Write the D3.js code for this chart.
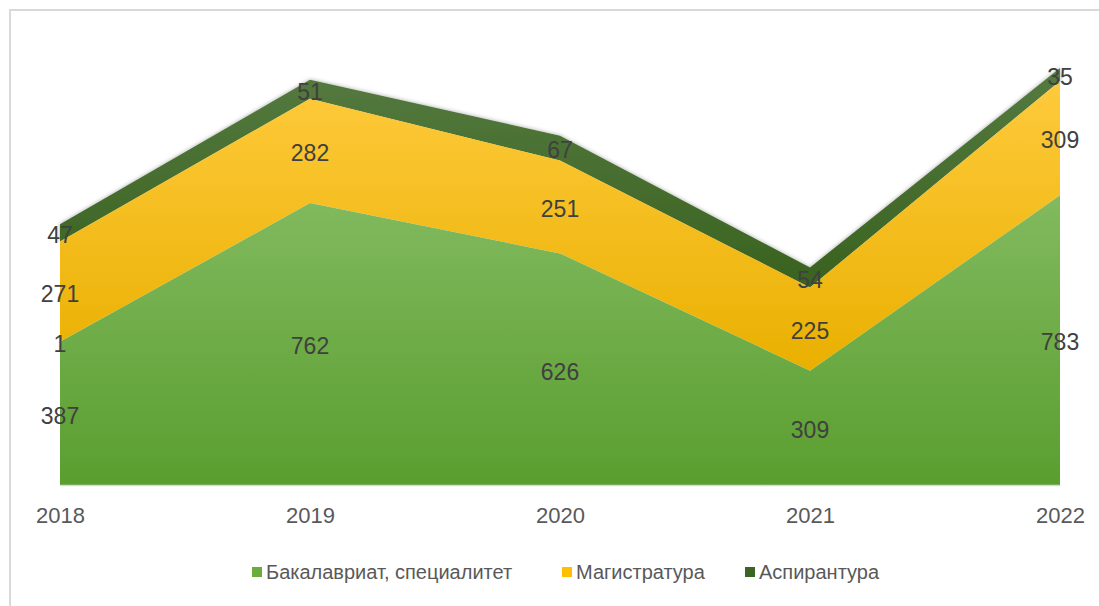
<!DOCTYPE html>
<html>
<head>
<meta charset="utf-8">
<script src="https://cdn.jsdelivr.net/npm/d3@7"></script>
<style>
  body { margin: 0; background: white; }
  text { font-family: "Liberation Sans Narrow", "Liberation Sans", sans-serif; }
</style>
</head>
<body>
<svg id="svg" width="1099" height="606"></svg>
<script>
var years = [2018, 2019, 2020, 2021, 2022];
var bakalavriat = [387, 762, 626, 309, 783];
var magistratura = [271, 282, 251, 225, 309];
var aspirantura = [47, 51, 67, 54, 35];
var seriesNames = ["Бакалавриат, специалитет", "Магистратура", "Аспирантура"];
// stray label excel put on the 2018 boundary
var extraLabels = [{ year: 2018, text: "1" }];

var width = 1099, height = 606;
const svg = d3.select('#svg');

// chart frame
svg.append("rect")
  .attr("x", 10).attr("y", 10)
  .attr("width", 1200).attr("height", 620)
  .attr("fill", "white")
  .attr("stroke", "#d9d9d9")
  .attr("stroke-width", 2);

var x = d3.scalePoint().domain(years).range([60, 1060]);
var y = d3.scaleLinear().domain([0, 1200]).range([485, 41]);

var rows = years.map(function(yr, i) {
  return { year: yr, b: bakalavriat[i], m: magistratura[i], a: aspirantura[i] };
});
var keys = ["b", "m", "a"];
var stacked = d3.stack().keys(keys)(rows);

var defs = svg.append("defs");
var grads = [
  ["gB", "#82ba5f", "#5a9e2f"],
  ["gM", "#ffca3c", "#e9b000"],
  ["gA", "#557a40", "#39621f"]
];
grads.forEach(function(g) {
  var lg = defs.append("linearGradient").attr("id", g[0])
    .attr("x1", 0).attr("y1", 0).attr("x2", 0).attr("y2", 1);
  lg.append("stop").attr("offset", "0%").attr("stop-color", g[1]);
  lg.append("stop").attr("offset", "100%").attr("stop-color", g[2]);
});
var shadow = defs.append("filter").attr("id", "shadow")
  .attr("x", "-5%").attr("y", "-5%").attr("width", "110%").attr("height", "110%");
shadow.append("feDropShadow")
  .attr("dx", 0).attr("dy", 0).attr("stdDeviation", 2)
  .attr("flood-color", "#000").attr("flood-opacity", 0.35);

var area = d3.area()
  .x(function(d) { return x(d.data.year); })
  .y0(function(d) { return y(d[0]); })
  .y1(function(d) { return y(d[1]); });

// draw top series first so the shadow sits under the others
svg.append("path").datum(stacked[2]).attr("d", area)
  .attr("fill", "url(#gA)").attr("filter", "url(#shadow)");
svg.append("path").datum(stacked[1]).attr("d", area).attr("fill", "url(#gM)");
svg.append("path").datum(stacked[0]).attr("d", area).attr("fill", "url(#gB)");

// axis
var xAxis = svg.append("g").attr("transform", "translate(0," + y(0) + ")")
  .call(d3.axisBottom(x).tickSize(0).tickPadding(22));
xAxis.select(".domain").attr("stroke", "#d9d9d9").attr("stroke-width", 1.5);
xAxis.selectAll("text")
  .style("font-size", "22px").attr("fill", "#595959")
  .style("font-family", "'Liberation Sans Narrow', sans-serif");

// data labels
stacked.forEach(function(s) {
  svg.selectAll(null).data(s).enter().append("text")
    .attr("x", function(d) { return x(d.data.year); })
    .attr("y", function(d) { return (y(d[0]) + y(d[1])) / 2; })
    .attr("dy", "0.45em")
    .attr("text-anchor", "middle")
    .style("font-size", "23px")
    .attr("fill", "#404040")
    .text(function(d) { return d.data[s.key]; });
});
extraLabels.forEach(function(l) {
  var i = years.indexOf(l.year);
  svg.append("text")
    .attr("x", x(l.year)).attr("y", y(bakalavriat[i]))
    .attr("dy", "0.45em").attr("text-anchor", "middle")
    .style("font-size", "23px").attr("fill", "#404040")
    .text(l.text);
});

// legend
var legendX = [252, 562, 745];
var legendCol = ["#6aad3d", "#ffc000", "#3b6522"];
var lg = svg.append("g");
seriesNames.forEach(function(n, i) {
  lg.append("rect").attr("x", legendX[i]).attr("y", 567)
    .attr("width", 10).attr("height", 10).attr("fill", legendCol[i]);
  lg.append("text").attr("x", legendX[i] + 14).attr("y", 572)
    .attr("dy", "0.36em").style("font-size", "20px").attr("fill", "#595959")
    .text(n);
});
</script>
</body>
</html>
